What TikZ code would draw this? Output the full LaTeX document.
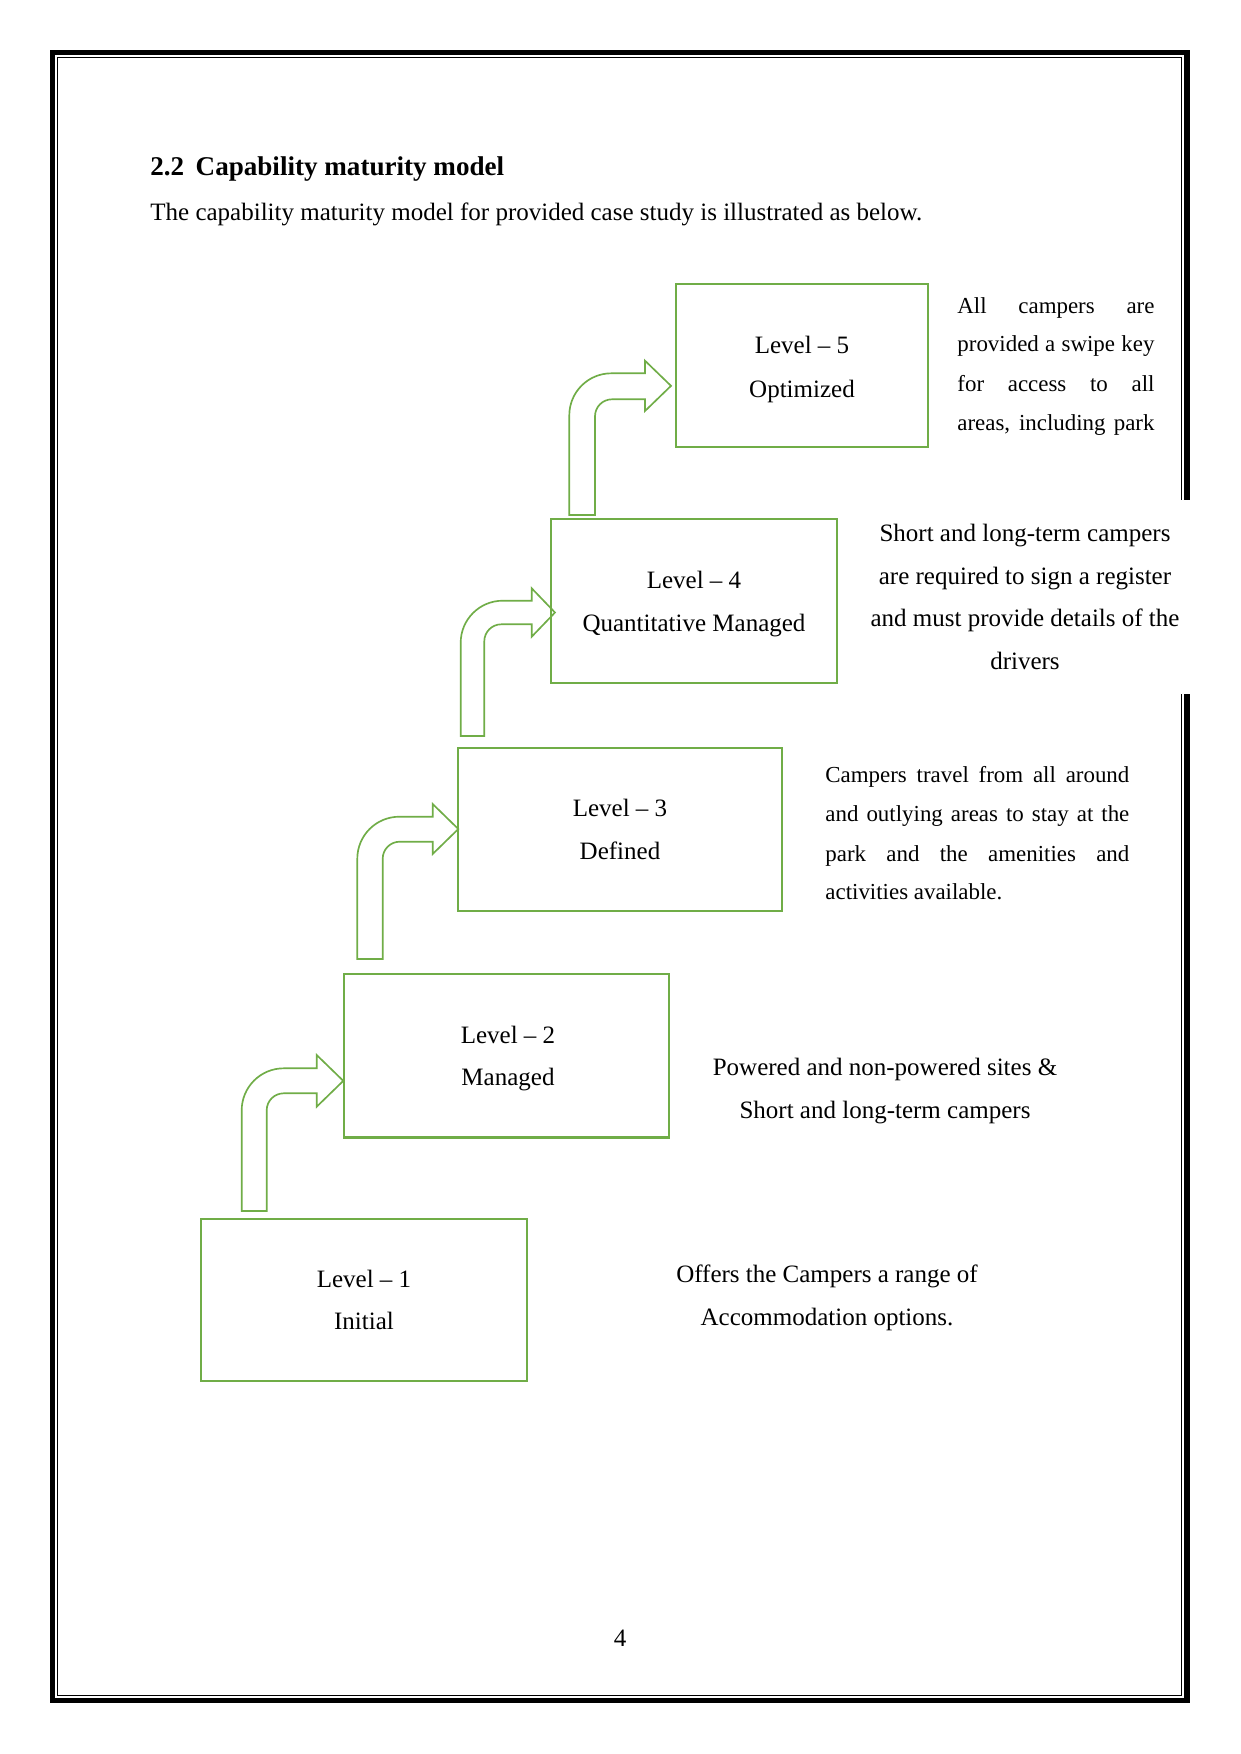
\documentclass[tikz,border=0pt]{standalone}
\usepackage{fontspec}
\setmainfont{Liberation Serif}
\definecolor{grn}{HTML}{70AD47}
\newcommand\bentarrow[9]{%
  \draw[arrowline] (#1,#3) -- (#1,{#4+42})
    .. controls (#1,{#4+42-23.2}) and ({#1+42-23.2},#4) .. ({#1+42},#4)
    -- (#6,#4) -- (#6,#7) -- (#9,{(#7+#8)/2}) -- (#6,#8) -- (#6,#5)
    -- ({#2+17},#5)
    .. controls ({#2+17-9.4},#5) and (#2,{#5+17-9.4}) .. (#2,{#5+17})
    -- (#2,#3) -- cycle;}
\begin{document}
\begin{tikzpicture}[x=0.48pt,y=-0.48pt,
  box/.style={draw=grn, line width=1pt, inner sep=0pt},
  arrowline/.style={draw=grn, line width=0.8pt, line join=miter},
  txt/.style={inner sep=0pt, anchor=base, font=\fontsize{12}{14}\selectfont},
  txtl/.style={inner sep=0pt, anchor=base west, font=\fontsize{12}{14}\selectfont},
  small/.style={inner sep=0pt, anchor=base west, font=\fontsize{11}{13}\selectfont}]
\useasboundingbox (0,0) rectangle (1241,1754);
\fill[white] (0,0) rectangle (1241,1754);
% page frame
\draw[line width=2.64pt] (52.5,52.5) rectangle (1187,1700.5);
\draw[line width=0.6pt] (57.7,57.5) rectangle (1181.7,1695.7);
\fill[white] (1176,500) rectangle (1197,694);
% heading
\node[inner sep=0pt, anchor=base west, font=\fontsize{13}{15}\selectfont\bfseries] (hd) at (150,175) {2.2\hspace{5.5pt}Capability maturity model};
\node[txtl] (sub) at (150,220) {The capability maturity model for provided case study is illustrated as below.};
% boxes
\node[box, minimum width=120.96pt, minimum height=78.24pt] (l5) at (802,365.5) {};
\node[box, minimum width=137.28pt, minimum height=78.6pt] (l4) at (694,601.2) {};
\node[box, minimum width=155.7pt, minimum height=77.95pt] (l3) at (619.9,829.5) {};
\node[box, minimum width=155.9pt, minimum height=78.3pt] (l2) at (506.7,1055.9) {};
\node[box, minimum width=156.5pt, minimum height=77.8pt] (l1) at (364,1300) {};
% box texts
\node[txt] (l5a) at (802,353) {Level – 5};
\node[txt] (l5b) at (802,397) {Optimized};
\node[txt] (l4a) at (694,588) {Level – 4};
\node[txt] (l4b) at (694,631.5) {Quantitative Managed};
\node[txt] (l3a) at (620,816) {Level – 3};
\node[txt] (l3b) at (620,859.6) {Defined};
\node[txt] (l2a) at (508,1043) {Level – 2};
\node[txt] (l2b) at (508,1085.6) {Managed};
\node[txt] (l1a) at (364,1287) {Level – 1};
\node[txt] (l1b) at (364,1329.5) {Initial};
% bent arrows
\bentarrow{241.7}{266.7}{1211}{1068.3}{1093.3}{316.7}{1055}{1106.7}{343.3}
\bentarrow{357.3}{382.7}{959}{816.7}{841.7}{432.7}{804}{854}{458.3}
\bentarrow{460.7}{484.3}{736}{600.7}{624.3}{531.7}{588.3}{636.7}{555}
\bentarrow{569.3}{595}{515}{373.3}{399.3}{645}{360.7}{411}{671}
% descriptions
\node[small] (d5a) at (957,313.3) {\hbox to 94.6pt{All campers are}};
\node[small] (d5b) at (957,351.7) {\hbox to 94.6pt{provided a swipe key}};
\node[small] (d5c) at (957,391.7) {\hbox to 94.6pt{for access to all}};
\node[small] (d5d) at (957,430) {\hbox to 94.6pt{areas, including park}};
\node[txt] (d4a) at (1025,541.8) {Short and long-term campers};
\node[txt] (d4b) at (1025,584.3) {are required to sign a register};
\node[txt] (d4c) at (1025,626.8) {and must provide details of the};
\node[txt] (d4d) at (1025,669.3) {drivers};
\node[small] (d3a) at (825,782.3) {\hbox to 145.9pt{Campers travel from all around}};
\node[small] (d3b) at (825,821) {\hbox to 145.9pt{and outlying areas to stay at the}};
\node[small] (d3c) at (825,861) {\hbox to 145.9pt{park and the amenities and}};
\node[small] (d3d) at (825,899) {activities available.};
\node[txt] (d2a) at (885,1075.5) {Powered and non-powered sites \&};
\node[txt] (d2b) at (885,1118) {Short and long-term campers};
\node[txt] (d1a) at (827,1282.5) {Offers the Campers a range of};
\node[txt] (d1b) at (827,1325) {Accommodation options.};
% page number
\node[txt] (pg) at (620,1646) {4};
\end{tikzpicture}
\end{document}
